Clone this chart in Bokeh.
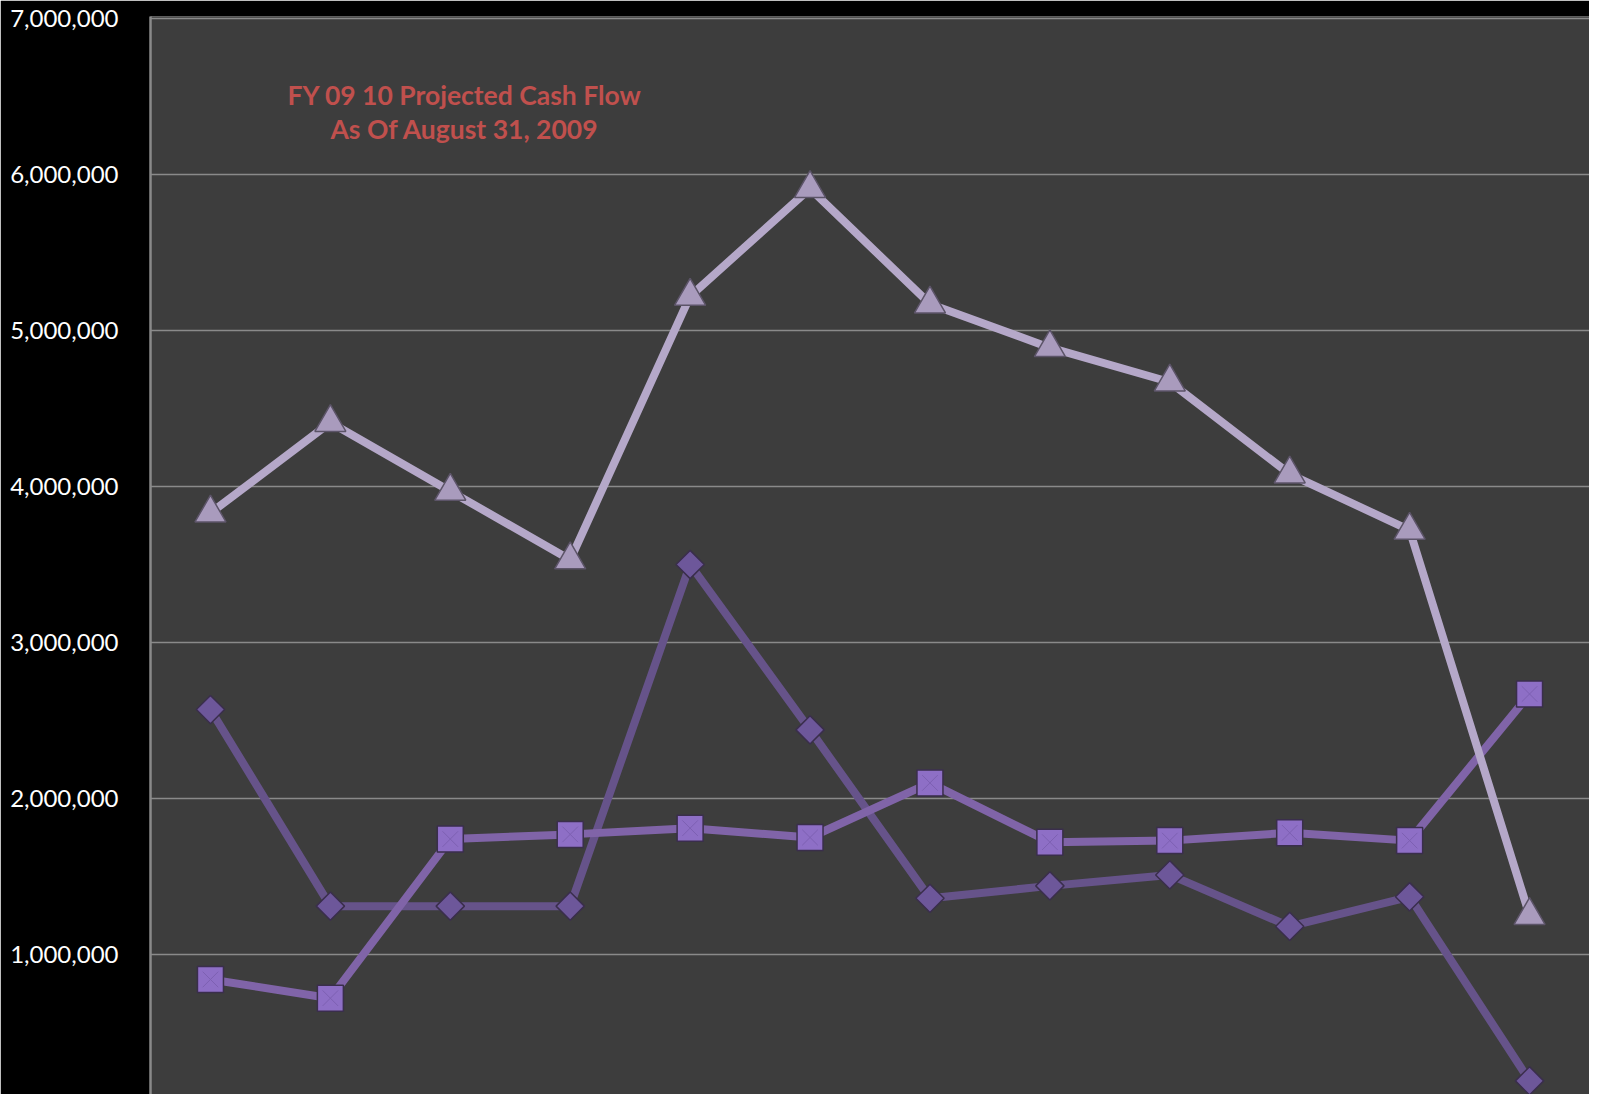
from bokeh.plotting import figure
from bokeh.models import FactorRange, Range1d, FixedTicker, NumeralTickFormatter, Label, ColumnDataSource
from bokeh.embed import file_html
from bokeh.resources import INLINE

# ---- data ----
months = ["Jul", "Aug", "Sep", "Oct", "Nov", "Dec", "Jan", "Feb", "Mar", "Apr", "May", "Jun"]
series_triangle = [3830000, 4410000, 3970000, 3530000, 5220000, 5910000,
                   5170000, 4890000, 4670000, 4080000, 3720000, 1250000]
series_diamond = [2570000, 1310000, 1310000, 1310000, 3500000, 2440000,
                  1360000, 1440000, 1510000, 1180000, 1370000, 190000]
series_square = [840000, 720000, 1740000, 1770000, 1810000, 1750000,
                 2100000, 1720000, 1730000, 1780000, 1730000, 2670000]
y_ticks = [1000000, 2000000, 3000000, 4000000, 5000000, 6000000, 7000000]
title_lines = ["FY 09 10 Projected Cash Flow", "As Of August 31, 2009"]

src = ColumnDataSource(dict(m=months, tri=series_triangle, dia=series_diamond, sq=series_square))

p = figure(
    x_range=FactorRange(*months),
    y_range=Range1d(102564, 7012800),
    width=1589, height=1094,
    output_backend="svg", toolbar_location=None,
    min_border_left=150, min_border_right=0, min_border_top=16, min_border_bottom=0,
)
p.background_fill_color = "#3d3d3d"
p.border_fill_color = "#000000"
p.outline_line_color = None

p.xaxis.visible = False
p.xgrid.grid_line_color = None
p.ygrid.grid_line_color = "#8a8a8a"
p.ygrid.grid_line_width = 1.5

ya = p.yaxis[0]
ya.ticker = FixedTicker(ticks=y_ticks)
ya.formatter = NumeralTickFormatter(format="0,0")
ya.major_label_text_color = "#ffffff"
ya.major_label_text_font = "Lato"
ya.major_label_text_font_size = "24px"
ya.major_tick_line_color = None
ya.minor_tick_line_color = None
ya.major_tick_out = 0
ya.major_label_standoff = 32
ya.axis_line_color = "#8a8a8a"
ya.axis_line_width = 2.5

# diamond series
p.line("m", "dia", source=src, line_color="#66538a", line_width=8)
p.scatter("m", "dia", source=src, marker="square", angle=0.785398, size=20,
          fill_color="#6d579a", line_color="#3a2e4c", line_width=1.5)

# square series
p.line("m", "sq", source=src, line_color="#8064a8", line_width=8)
p.scatter("m", "sq", source=src, marker="square", size=26,
          fill_color="#8e6fc6", line_color="#3a2e4c", line_width=1.5)
p.scatter("m", "sq", source=src, marker="x", size=22,
          line_color="#7d60b2", line_width=1)

# triangle series (on top)
p.line("m", "tri", source=src, line_color="#b5a8c9", line_width=8)
p.scatter("m", "tri", source=src, marker="triangle", size=31,
          fill_color="#a99bbd", line_color="#5c5468", line_width=1.5)

for txt, yv in zip(title_lines, [6512800, 6288500]):
    p.add_layout(Label(x=2.62, y=yv, text=txt, text_align="center", text_baseline="middle",
                       text_color="#c0504d", text_font="Lato", text_font_style="bold",
                       text_font_size="26.5px"))

open("out.html", "w").write(file_html(p, INLINE))
